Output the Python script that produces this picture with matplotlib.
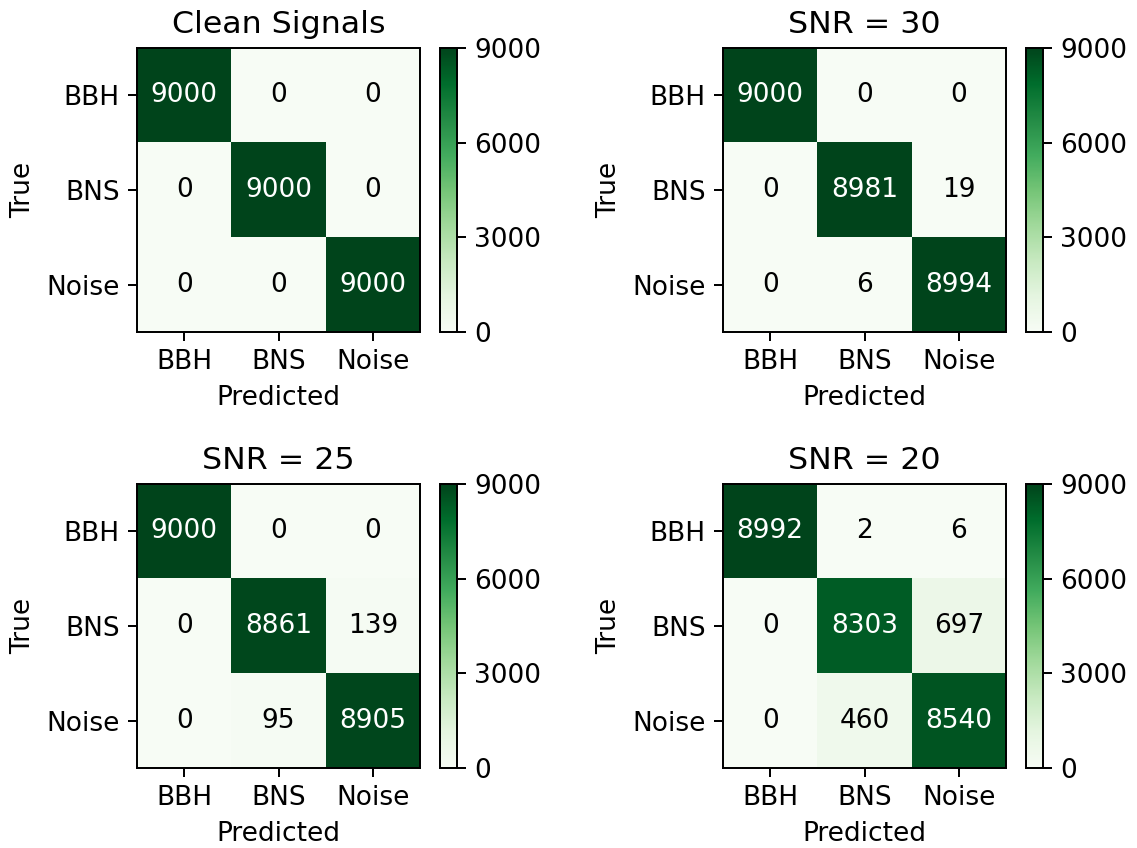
import numpy as np
import matplotlib
matplotlib.use("Agg")
import matplotlib.pyplot as plt

classes = ["BBH", "BNS", "Noise"]
titles = ["Clean Signals", "SNR = 30", "SNR = 25", "SNR = 20"]

cm_clean = [[9000, 0, 0],
            [0, 9000, 0],
            [0, 0, 9000]]
cm_snr30 = [[9000, 0, 0],
            [0, 8981, 19],
            [0, 6, 8994]]
cm_snr25 = [[9000, 0, 0],
            [0, 8861, 139],
            [0, 95, 8905]]
cm_snr20 = [[8992, 2, 6],
            [0, 8303, 697],
            [0, 460, 8540]]
matrices = [cm_clean, cm_snr30, cm_snr25, cm_snr20]

cbar_ticks = [0, 3000, 6000, 9000]

plt.rcParams["font.size"] = 10.7

W, H = 1137, 848
fig = plt.figure(figsize=(W / 177.66, H / 177.66), dpi=177.66)

# pixel boxes of the main axes (left, top) and colorbars
ax_lefts = [137, 723, 137, 723]
ax_tops = [48, 48, 484, 484]
ax_w, ax_h = 283, 284
cb_off, cb_w = 303, 17

cmap = plt.get_cmap("Greens")
for i, cm in enumerate(matrices):
    cm = np.array(cm)
    l, t = ax_lefts[i], ax_tops[i]
    ax = fig.add_axes([l / W, (H - t - ax_h) / H, ax_w / W, ax_h / H])
    cax = fig.add_axes([(l + cb_off) / W, (H - t - ax_h) / H, cb_w / W, ax_h / H])
    im = ax.imshow(cm, cmap=cmap, vmin=0, vmax=9000, aspect="auto")
    thresh = (cm.max() + cm.min()) / 2.0
    for r in range(3):
        for c in range(3):
            col = "white" if cm[r, c] >= thresh else "black"
            ax.text(c, r, str(cm[r, c]), ha="center", va="center", color=col)
    ax.set_xticks(range(3))
    ax.set_yticks(range(3))
    ax.set_xticklabels(classes)
    ax.set_yticklabels(classes)
    ax.set_xlabel("Predicted")
    ax.set_ylabel("True")
    ax.set_title(titles[i], fontsize=12.8)
    cb = fig.colorbar(im, cax=cax)
    cb.set_ticks(cbar_ticks)

fig.savefig("out.png", dpi=177.66)
